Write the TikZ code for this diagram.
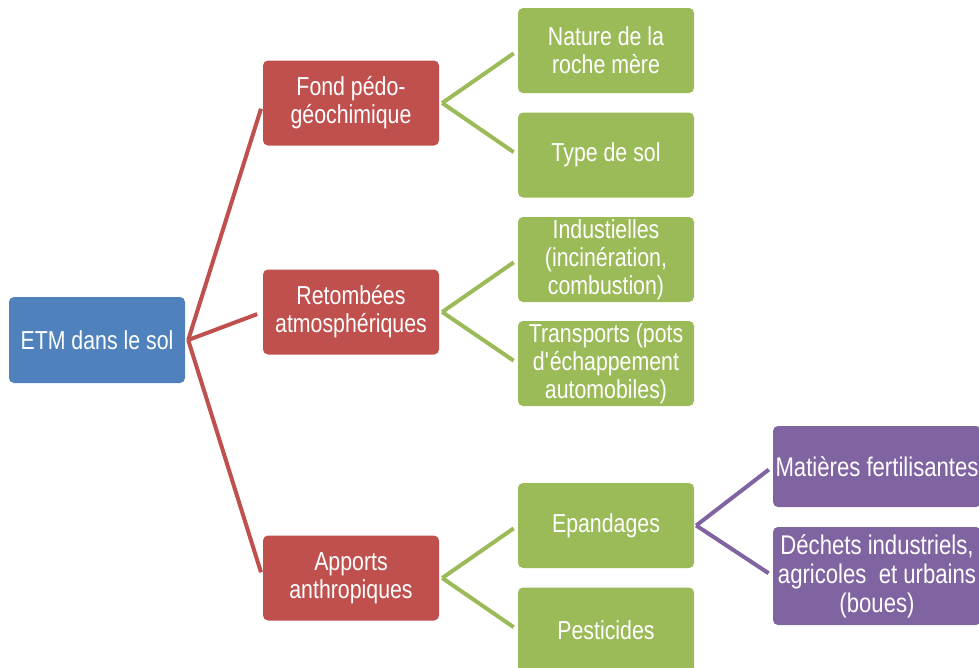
\documentclass[tikz,border=0pt]{standalone}
\usepackage{fontspec}
\setmainfont{Liberation Sans}[FakeStretch=0.82]
\usetikzlibrary{calc}
\definecolor{cblue}{HTML}{4F81BD}
\definecolor{cred}{HTML}{C0504D}
\definecolor{cgreen}{HTML}{9BBB59}
\definecolor{cpurple}{HTML}{8064A2}
\tikzset{
  box/.style={rectangle, rounded corners=5pt, text=white, align=center, inner sep=0pt,
    minimum width=176pt, minimum height=85pt, font=\fontsize{26}{28}\selectfont},
  bluebox/.style={box, fill=cblue},
  redbox/.style={box, fill=cred},
  greenbox/.style={box, fill=cgreen},
  purplebox/.style={box, fill=cpurple, minimum width=208pt, font=\fontsize{27}{29}\selectfont},
  redline/.style={draw=cred, line width=4pt, shorten >=6pt},
  greenline/.style={draw=cgreen, line width=4pt, shorten >=5pt},
  purpleline/.style={draw=cpurple, line width=4pt, shorten >=5pt},
}
\begin{document}
\begin{tikzpicture}[x=1pt,y=-1pt]
\useasboundingbox (0,0) rectangle (979,667);
\node[bluebox, minimum height=86pt] (etm) at (97,340) {ETM dans le sol};
\node[redbox] (fond) at (351,103) {Fond pédo-\\géochimique};
\node[redbox] (ret) at (351,312) {Retombées\\atmosphériques};
\node[redbox] (app) at (351,578) {Apports\\anthropiques};
\node[greenbox] (nat) at (606,50.5) {Nature de la\\roche mère};
\node[greenbox] (typ) at (606,155) {Type de sol};
\node[greenbox] (ind) at (606,259.5) {Industielles\\(incinération,\\combustion)};
\node[greenbox] (tra) at (606,363.5) {Transports (pots\\d\textquotesingle échappement\\automobiles)};
\node[greenbox] (epa) at (606,525.5) {Epandages};
\node[greenbox] (pes) at (606,630) {Pesticides};
\node[purplebox, minimum height=81pt] (mat) at (877,466.5) {Matières fertilisantes};
\node[purplebox, minimum height=98pt] (dec) at (877,576) {Déchets industriels,\\agricoles\ \ et urbains\\(boues)};
\foreach \t in {fond,ret,app}
  \draw[redline] ([xshift=3pt]etm.east) -- (\t.west);
\draw[greenline] ([xshift=3pt]fond.east) -- (nat.west);
\draw[greenline] ([xshift=3pt]fond.east) -- (typ.west);
\draw[greenline] ([xshift=3pt]ret.east) -- (ind.west);
\draw[greenline] ([xshift=3pt]ret.east) -- (tra.west);
\draw[greenline] ([xshift=3pt]app.east) -- (epa.west);
\draw[greenline] ([xshift=3pt]app.east) -- (pes.west);
\draw[purpleline] ([xshift=2pt]epa.east) -- (mat.west);
\draw[purpleline] ([xshift=2pt]epa.east) -- (dec.west);
\end{tikzpicture}
\end{document}
